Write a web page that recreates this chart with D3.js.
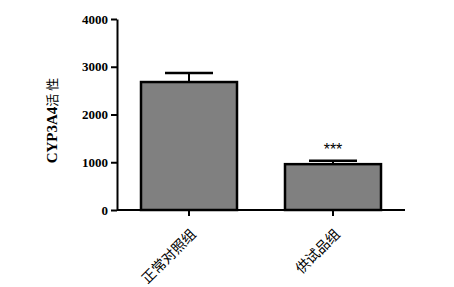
<!DOCTYPE html>
<html>
<head>
<meta charset="utf-8">
<script src="https://cdn.jsdelivr.net/npm/d3@7"></script>
<style>
body { margin: 0; background: #fff; }
svg text { fill: #000; }
</style>
</head>
<body>
<div id="chart"></div>
<script>
var groups = ["正常对照组", "供试品组"];
var means = [2680, 960];
var errTops = [2870, 1030];
var marks = ["", "***"];
var yTicks = [0, 1000, 2000, 3000, 4000];

var width = 454, height = 287;
var svg = d3.select("#chart").append("svg")
    .attr("width", width)
    .attr("height", height);

var x = d3.scaleBand()
    .domain(groups)
    .range([117, 405])
    .paddingInner(1 / 3)
    .paddingOuter(1 / 6);

var y = d3.scaleLinear()
    .domain([0, 4000])
    .range([210, 19]);

// bars
svg.selectAll(".bar")
    .data(groups)
  .enter().append("rect")
    .attr("class", "bar")
    .attr("x", function(d) { return x(d); })
    .attr("y", function(d, i) { return y(means[i]); })
    .attr("width", x.bandwidth())
    .attr("height", function(d, i) { return y(0) - y(means[i]); })
    .style("fill", "#808080")
    .style("stroke", "#000")
    .style("stroke-width", 2.5);

// error bars (upper only)
var capW = x.bandwidth() / 2;
var err = svg.selectAll(".err")
    .data(groups)
  .enter().append("g")
    .attr("class", "err");
err.append("line")
    .attr("x1", function(d) { return x(d) + x.bandwidth() / 2; })
    .attr("x2", function(d) { return x(d) + x.bandwidth() / 2; })
    .attr("y1", function(d, i) { return y(means[i]); })
    .attr("y2", function(d, i) { return y(errTops[i]); })
    .style("stroke", "#000").style("stroke-width", 2);
err.append("line")
    .attr("x1", function(d) { return x(d) + x.bandwidth() / 2 - capW / 2; })
    .attr("x2", function(d) { return x(d) + x.bandwidth() / 2 + capW / 2; })
    .attr("y1", function(d, i) { return y(errTops[i]); })
    .attr("y2", function(d, i) { return y(errTops[i]); })
    .style("stroke", "#000").style("stroke-width", 2.5);

// significance stars
svg.selectAll(".sig")
    .data(groups)
  .enter().append("text")
    .attr("class", "sig")
    .attr("x", function(d) { return x(d) + x.bandwidth() / 2; })
    .attr("y", function(d, i) { return y(errTops[i]) - 6; })
    .attr("text-anchor", "middle")
    .style("font-family", "'Liberation Sans', Arial, sans-serif")
    .style("font-size", "16px")
    .text(function(d, i) { return marks[i]; });

// y axis
var yAxis = svg.append("g")
    .attr("transform", "translate(117,0)")
    .call(d3.axisLeft(y).tickValues(yTicks).tickSize(6).tickSizeOuter(0).tickPadding(3).tickFormat(d3.format("d")));
yAxis.selectAll("path, line").style("stroke", "#000").style("stroke-width", 2);
yAxis.selectAll("text")
    .style("font-family", "'Liberation Serif', 'Times New Roman', serif")
    .style("font-weight", "bold")
    .style("font-size", "13px")
    .style("fill", "#000");

// x axis
var xAxis = svg.append("g")
    .attr("transform", "translate(0,210)")
    .call(d3.axisBottom(x).tickSize(6).tickSizeOuter(0));
xAxis.select(".domain").attr("d", "M117,0H405");
xAxis.selectAll("path, line").style("stroke", "#000").style("stroke-width", 2);
xAxis.selectAll("text")
    .attr("text-anchor", "end")
    .attr("x", 0)
    .attr("y", 0)
    .attr("dy", "0")
    .attr("transform", "translate(8,25) rotate(-45)")
    .style("font-family", "'Noto Sans CJK SC', sans-serif")
    .style("font-size", "14px")
    .style("fill", "#000");

// y label
var yl = svg.append("text")
    .attr("transform", "translate(57,119) rotate(-90)")
    .attr("text-anchor", "middle");
yl.append("tspan")
    .style("font-family", "'Liberation Serif', 'Times New Roman', serif")
    .style("font-weight", "bold")
    .style("font-size", "15px")
    .text("CYP3A4");
yl.append("tspan")
    .style("font-family", "'Noto Sans CJK SC', sans-serif")
    .style("font-size", "13px")
    .style("letter-spacing", "3px")
    .text("活性");
</script>
</body>
</html>
